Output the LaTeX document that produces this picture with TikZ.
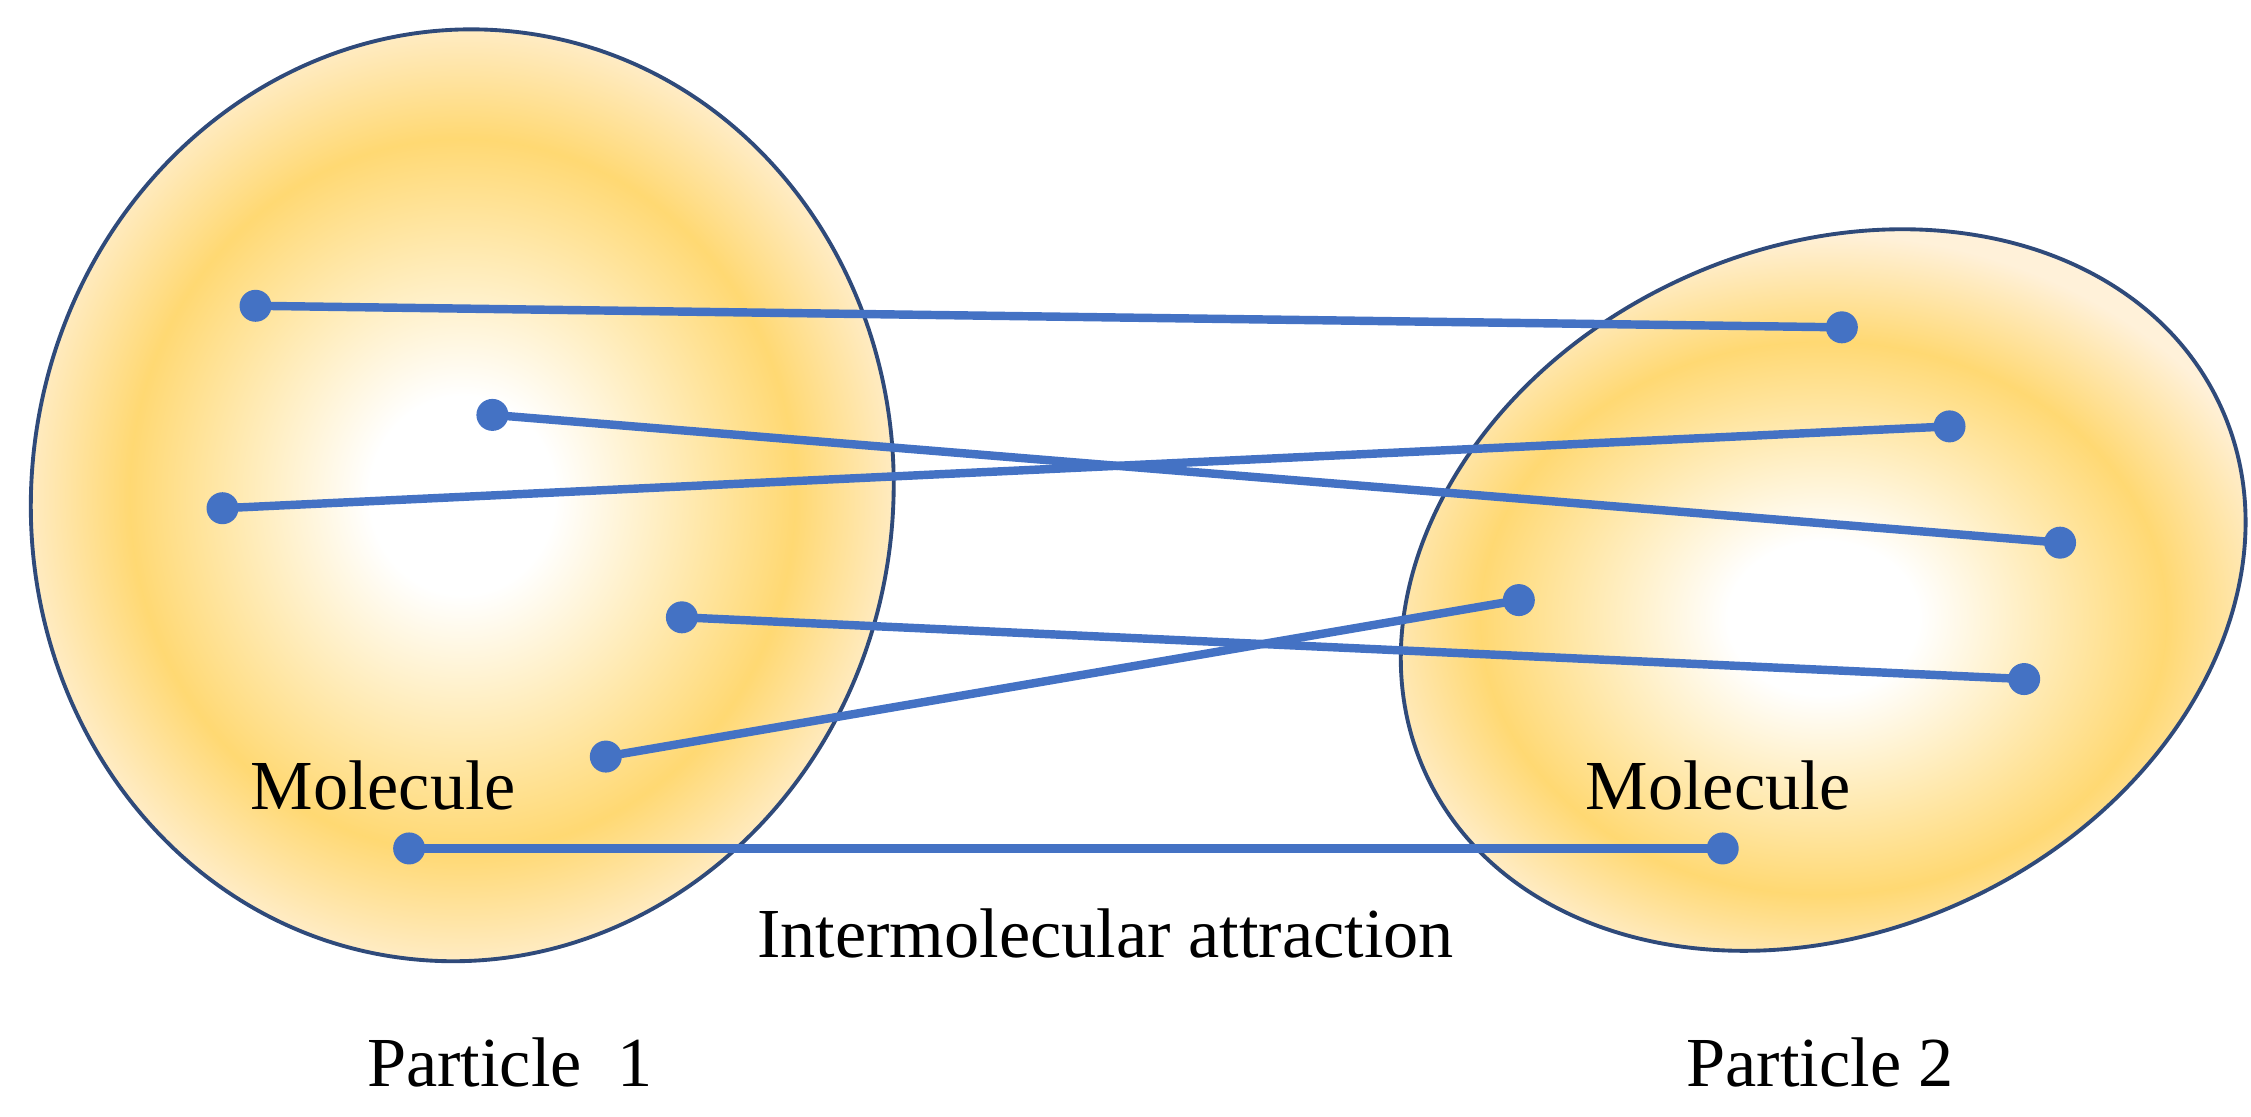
\documentclass[tikz,border=0pt]{standalone}
\usepackage{fontspec}
\setmainfont{Liberation Serif}
\pgfdeclareradialshading{glow}{\pgfpoint{0bp}{0bp}}{color(0bp)=(white); color(5bp)=(white); color(18bp)=(yellow!45!orange!55!white); color(25bp)=(yellow!25!orange!15!white); color(50bp)=(yellow!25!orange!15!white)}
\begin{document}
\begin{tikzpicture}[x=0.014356cm,y=-0.014356cm,
  dot/.style={circle,fill=lblue,inner sep=0pt,minimum size=0.32cm},
  link/.style={draw=lblue,line width=2.4pt},
  lbl/.style={font=\fontsize{20}{23}\selectfont,inner sep=0pt}]
\definecolor{lblue}{HTML}{4472C4}
\definecolor{edge}{HTML}{2F4A7A}
\useasboundingbox (0,0) rectangle (1568,778);
\shade[shading=glow,draw=edge,line width=1.1pt,rotate around={-8:(322,345)}] (322,345) ellipse [x radius=300,y radius=325];
\shade[shading=glow,draw=edge,line width=1.1pt,rotate around={25:(1270,411)}] (1270,411) ellipse [x radius=305,y radius=238];
\node[dot] (a1) at (178,213) {}; \node[dot] (b1) at (1283,228) {};
\node[dot] (a2) at (343,289) {}; \node[dot] (b2) at (1435,378) {};
\node[dot] (a3) at (155,354) {}; \node[dot] (b3) at (1358,297) {};
\node[dot] (a4) at (475,430) {}; \node[dot] (b4) at (1410,473) {};
\node[dot] (a5) at (422,527) {}; \node[dot] (b5) at (1058,418) {};
\node[dot] (a6) at (285,591) {}; \node[dot] (b6) at (1200,591) {};
\foreach \i in {1,...,6} \draw[link] (a\i.center) -- (b\i.center);
\node[lbl] (m1) at (267,547) {Molecule};
\node[lbl] (m2) at (1197,547) {Molecule};
\node[lbl] (ia) at (770,650) {Intermolecular attraction};
\node[lbl] (p1) at (355,740) {Particle\ \ 1};
\node[lbl] (p2) at (1268,740) {Particle 2};
\end{tikzpicture}
\end{document}
